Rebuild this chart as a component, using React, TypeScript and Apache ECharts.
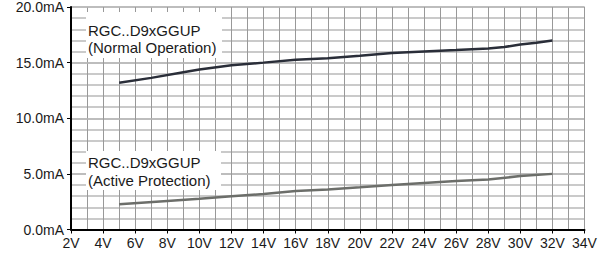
import React, { useEffect, useRef } from "react";
import * as echarts from "echarts";

const xTickMin = 2;
const xTickMax = 34;
const yTickMin = 0;
const yTickMax = 20;

const normalVolts = [5, 7, 9, 10, 12, 14, 16, 18, 20, 22, 24, 26, 28, 29, 30, 31, 32];
const normalCurrent = [13.2, 13.63, 14.14, 14.38, 14.77, 15.0, 15.25, 15.4, 15.61, 15.86, 16.0, 16.13, 16.27, 16.4, 16.63, 16.78, 16.99];

const activeVolts = [5, 8, 10, 12, 14, 16, 18, 20, 22, 24, 26, 28, 30, 32];
const activeCurrent = [2.28, 2.57, 2.76, 2.98, 3.2, 3.45, 3.6, 3.79, 3.99, 4.17, 4.35, 4.5, 4.8, 5.0];

const normalLabel = ["RGC..D9xGGUP", "(Normal Operation)"];
const activeLabel = ["RGC..D9xGGUP", "(Active Protection)"];

const FONT = "'Liberation Sans', Arial, sans-serif";

export default function App() {
  const ref = useRef<HTMLDivElement>(null);

  useEffect(() => {
    if (!ref.current) return;
    const chart = echarts.init(ref.current, undefined, { renderer: "svg" });

    const textEl = (x: number, y: number, t: string) => ({
      type: "text",
      x,
      y,
      z: 101,
      style: {
        text: t,
        font: `15px ${FONT}`,
        fill: "#1a1a1a",
        verticalAlign: "middle",
        align: "left",
      },
    });

    const vGrid = { color: "#999", width: 1 };
    const hGrid = { color: "#b8b8b8", width: 1.5 };

    chart.setOption({
      animation: false,
      backgroundColor: "#ffffff",
      grid: { left: 71, right: 17.5, top: 7, bottom: 29.5 },
      xAxis: [
        {
          type: "value",
          min: xTickMin,
          max: xTickMax,
          interval: 2,
          z: 3,
          axisLine: { show: true, onZero: false, lineStyle: { color: "#000", width: 2 } },
          axisTick: { show: true, length: 4, lineStyle: { color: "#000" } },
          axisLabel: {
            formatter: (v: number) => `${v}V`,
            fontSize: 14,
            fontFamily: FONT,
            color: "#1a1a1a",
            margin: 6,
          },
          splitLine: { show: true, lineStyle: vGrid },
        },
        {
          type: "value",
          min: xTickMin,
          max: xTickMax,
          interval: 1,
          position: "bottom",
          z: 1,
          axisLine: { show: false },
          axisTick: { show: false },
          axisLabel: { show: false },
          splitLine: { show: true, lineStyle: vGrid },
        },
      ],
      yAxis: [
        {
          type: "value",
          min: yTickMin,
          max: yTickMax,
          interval: 5,
          z: 3,
          axisLine: { show: true, onZero: false, lineStyle: { color: "#000", width: 2 } },
          axisTick: { show: true, length: 4, lineStyle: { color: "#000" } },
          axisLabel: {
            formatter: (v: number) => `${v.toFixed(1)}mA`,
            fontSize: 14,
            fontFamily: FONT,
            color: "#1a1a1a",
            margin: 7,
          },
          splitLine: { show: true, lineStyle: hGrid },
        },
        {
          type: "value",
          min: yTickMin,
          max: yTickMax,
          interval: 1,
          position: "left",
          z: 1,
          axisLine: { show: false },
          axisTick: { show: false },
          axisLabel: { show: false },
          splitLine: { show: true, lineStyle: hGrid },
        },
      ],
      series: [
        {
          type: "line",
          name: "Normal Operation",
          xAxisIndex: 0,
          yAxisIndex: 0,
          data: normalVolts.map((v, i) => [v, normalCurrent[i]]),
          showSymbol: false,
          symbol: "none",
          lineStyle: { color: "#2a2e39", width: 2.5 },
          z: 5,
        },
        {
          type: "line",
          name: "Active Protection",
          xAxisIndex: 0,
          yAxisIndex: 0,
          data: activeVolts.map((v, i) => [v, activeCurrent[i]]),
          showSymbol: false,
          symbol: "none",
          lineStyle: { color: "#6c6e6a", width: 2.5 },
          z: 5,
        },
      ],
      graphic: [
        {
          type: "rect",
          z: 100,
          shape: { x: 86, y: 12, width: 136, height: 46 },
          style: { fill: "#ffffff" },
        },
        textEl(88, 30.5, normalLabel[0]),
        textEl(88, 47, normalLabel[1]),
        {
          type: "rect",
          z: 100,
          shape: { x: 86, y: 151, width: 135, height: 39 },
          style: { fill: "#ffffff" },
        },
        textEl(88, 162.5, activeLabel[0]),
        textEl(88, 180.8, activeLabel[1]),
      ],
    });

    return () => chart.dispose();
  }, []);

  return (
    <div
      ref={ref}
      style={{ position: "fixed", left: 0, top: 0, width: 602, height: 259 }}
    />
  );
}
